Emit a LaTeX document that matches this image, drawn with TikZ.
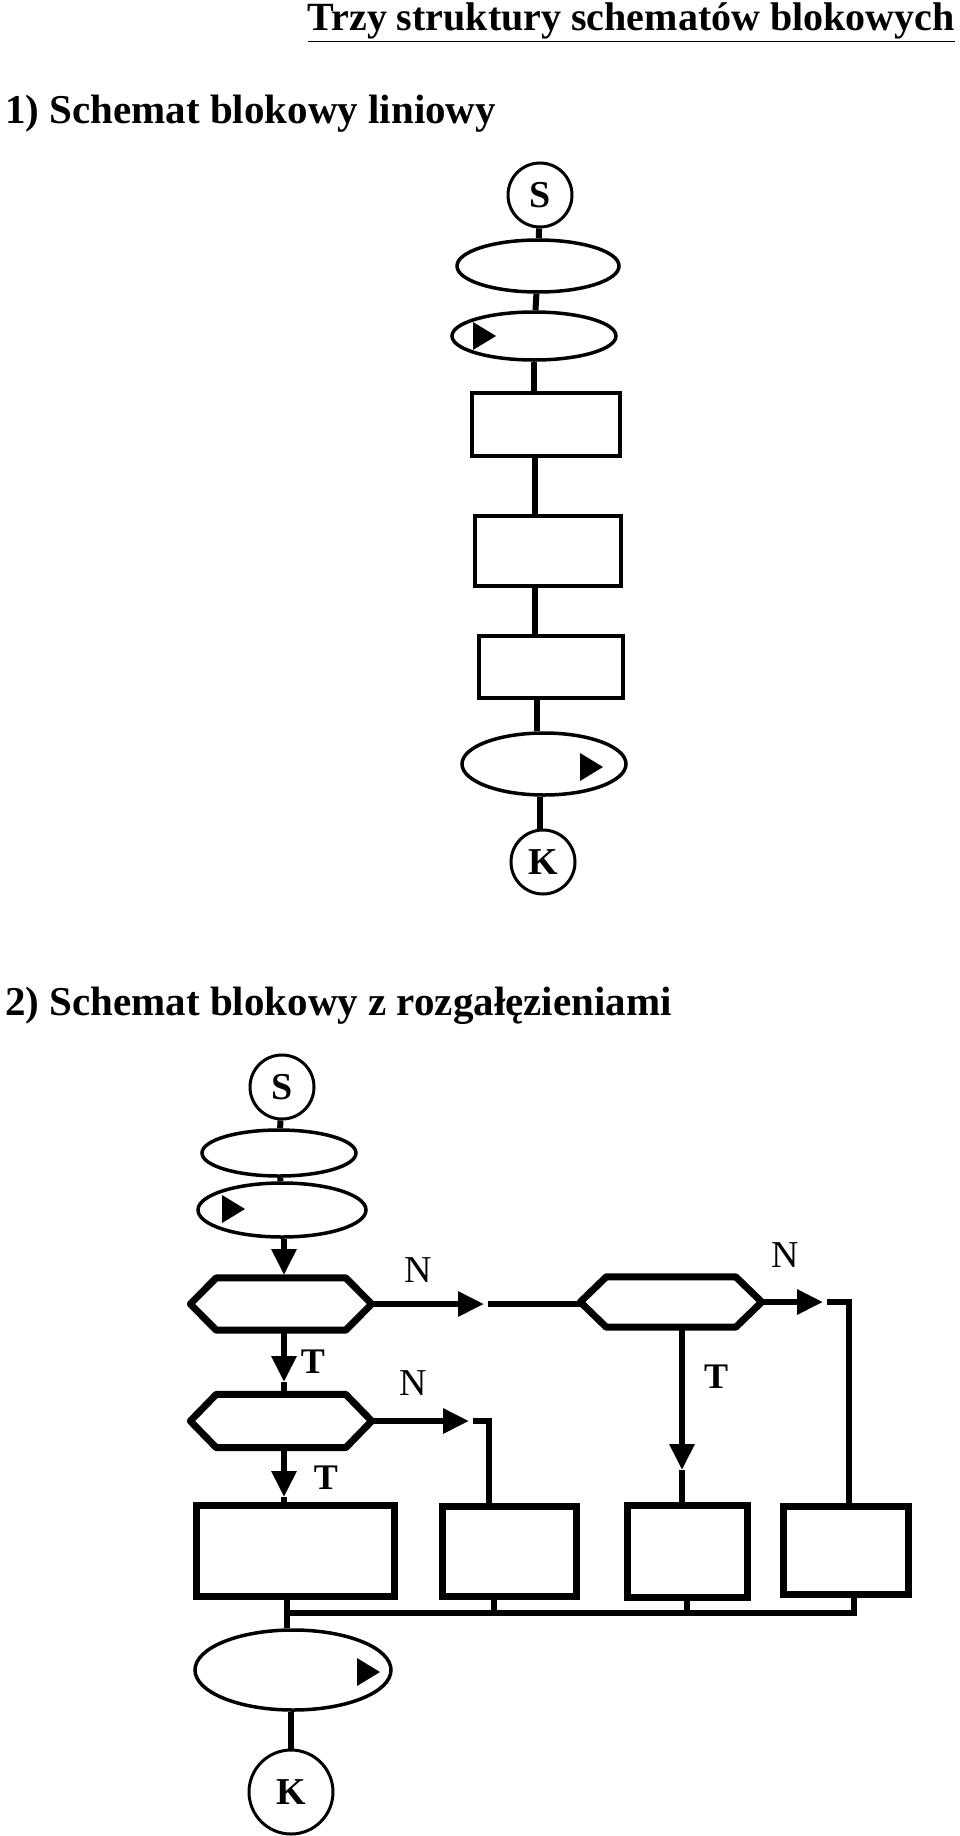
\documentclass[tikz,border=0pt]{standalone}
\usepackage{fontspec}
\setmainfont{Liberation Serif}
\usetikzlibrary{shapes.geometric,arrows.meta}
\tikzset{
  bx/.style={draw,line width=4pt,inner sep=0pt},
  rbox/.style={bx,rectangle},
  ell/.style={draw,line width=3.5pt,ellipse,inner sep=0pt},
  term/.style={draw,line width=3pt,circle,inner sep=0pt,minimum size=64pt,font=\bfseries\fontsize{38}{38}\selectfont},
  hexa/.style={rectangle,inner sep=0pt},
  hexline/.style={line width=7pt,line join=round},
  con/.style={line width=6pt},
  arr/.style={line width=6pt,-{Triangle[width=24pt,length=26pt]}},
  lab/.style={font=\fontsize{38}{38}\selectfont},
  tlab/.style={font=\bfseries\fontsize{36}{36}\selectfont},
  head/.style={font=\bfseries\fontsize{41}{41}\selectfont,inner sep=0pt}
}
\newcommand{\tri}[2]{\fill (#1-10,#2-14) -- (#1+13,#2) -- (#1-10,#2+14) -- cycle;}
\newcommand{\hexdraw}[1]{\draw[hexline] ([xshift=26pt]#1.north west) -- ([xshift=-26pt]#1.north east) -- (#1.east) -- ([xshift=-26pt]#1.south east) -- ([xshift=26pt]#1.south west) -- (#1.west) -- cycle;}
\begin{document}
\begin{tikzpicture}[x=1pt,y=-1pt]
\useasboundingbox (0,0) rectangle (960,1836);
\node[head,font=\bfseries\fontsize{40}{40}\selectfont,anchor=base east] (title) at (955,31) {\underline{Trzy struktury schematów blokowych}};
\node[head,anchor=base west] (h1t) at (5,123) {1) Schemat blokowy liniowy};
% section 1
\node[term] (s1) at (540,195) {S};
\node[ell,minimum width=162pt,minimum height=52pt] (e11) at (538,266) {};
\node[ell,minimum width=164pt,minimum height=48pt] (e12) at (534,336) {};
\node[rbox,minimum width=148pt,minimum height=63pt] (r11) at (546,424) {};
\node[rbox,minimum width=146pt,minimum height=70pt] (r12) at (548,551) {};
\node[rbox,minimum width=144pt,minimum height=62pt] (r13) at (551,667) {};
\node[ell,minimum width=164pt,minimum height=62pt] (e13) at (544,764) {};
\node[term] (k1) at (543,862) {K};
\tri{483}{336}
\tri{590}{767}
\draw[con] (s1) -- (e11);
\draw[con] (e11) -- (e12);
\draw[con] (e12.south) -- (r11.north -| e12.south);
\draw[con] (r11.south -| 535,0) -- (r12.north -| 535,0);
\draw[con] (r12.south -| 535,0) -- (r13.north -| 535,0);
\draw[con] (r13.south -| 537,0) -- (e13.north -| 537,0);
\draw[con] (e13.south -| 540,0) -- (k1.north -| 540,0);
% section 2
\node[head,anchor=base west] (h2t) at (5,1015) {2) Schemat blokowy z rozgałęzieniami};
\node[term] (s2) at (282,1087) {S};
\node[ell,minimum width=154pt,minimum height=46pt] (e21) at (279,1153) {};
\node[ell,minimum width=168pt,minimum height=54pt] (e22) at (282,1210) {};
\tri{232}{1209}
\node[hexa,minimum width=181pt,minimum height=52pt] (x1) at (281,1304) {};
\node[hexa,minimum width=181pt,minimum height=50pt] (x2) at (671,1302) {};
\node[hexa,minimum width=181pt,minimum height=53pt] (x3) at (281,1421) {};
\hexdraw{x1}
\hexdraw{x2}
\hexdraw{x3}
\node[rbox,line width=7pt,minimum width=198pt,minimum height=91pt] (r21) at (295,1551) {};
\node[rbox,line width=7pt,minimum width=134pt,minimum height=90pt] (r22) at (509,1551) {};
\node[rbox,line width=7pt,minimum width=120pt,minimum height=92pt] (r23) at (687,1551) {};
\node[rbox,line width=7pt,minimum width=125pt,minimum height=88pt] (r24) at (846,1550) {};
\node[ell,minimum width=196pt,minimum height=80pt] (e23) at (293,1670) {};
\tri{367}{1672}
\node[term,minimum size=84pt] (k2) at (291,1792) {K};
\coordinate (a0) at (284,1275);
\coordinate (a1) at (484,1304);
\coordinate (a2) at (823,1302);
\coordinate (a3) at (682,1470);
\coordinate (a4) at (469,1421);
\coordinate (a5) at (284,1382);
\coordinate (a6) at (284,1497);
\coordinate (bus) at (287,1613);
\draw[con] (s2) -- (e21);
\draw[con] (e21) -- (e22);
\draw[arr] (e22.south -| a0) -- (a0);
\draw[arr] (x1.east) -- (a1);
\draw[con] ([xshift=4pt]a1) -- (x2.west |- a1);
\draw[arr] (x2.east) -- (a2);
\draw[con] ([xshift=4pt]a2) -| (r24.north -| 849,0);
\draw[arr] (x2.south -| a3) -- (a3);
\draw[con] (a3) -- (r23.north -| a3);
\draw[arr] (x1.south -| a5) -- (a5);
\draw[con] (a5) -- (x3.north -| a5);
\draw[arr] (x3.east) -- (a4);
\draw[con] ([xshift=4pt]a4) -| (r22.north -| 489,0);
\draw[arr] (x3.south -| a6) -- (a6);
\draw[con] (a6) -- (r21.north -| a6);
\draw[con] (r21.south -| bus) -- (e23.north -| bus);
\draw[con] (r24.south -| 854,0) |- (bus);
\draw[con] (r22.south -| 494,0) -- (bus -| 494,0);
\draw[con] (r23.south -| 687,0) -- (bus -| 687,0);
\draw[con] (e23.south -| 291,0) -- (k2);
\node[lab] (n1) at (418,1270) {N};
\node[lab] (n2) at (785,1255) {N};
\node[lab] (n3) at (413,1383) {N};
\node[tlab] (t1) at (313,1362) {T};
\node[tlab] (t2) at (716,1377) {T};
\node[tlab] (t3) at (326,1478) {T};
\end{tikzpicture}
\end{document}
